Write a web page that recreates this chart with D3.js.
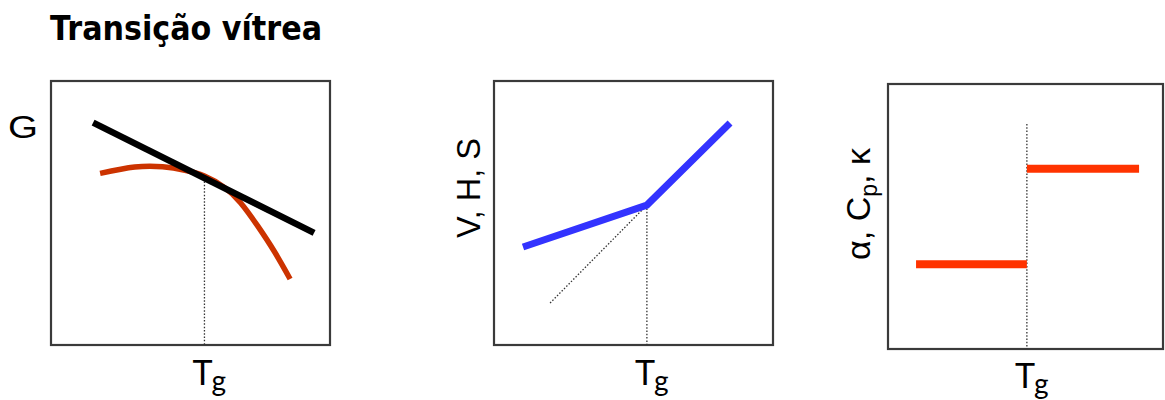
<!DOCTYPE html>
<html>
<head>
<meta charset="utf-8">
<script src="https://cdn.jsdelivr.net/npm/d3@7"></script>
<style>
  html, body { margin: 0; padding: 0; background: #ffffff; }
  svg { display: block; }
</style>
</head>
<body>
<svg id="chart" width="1165" height="400"></svg>
<script>
// ---------- DATA (abstract units: temperature 0..100, property 0..100) ----------
const title = "Transição vítrea";
const tgLabel = "T";
const tgSub = "g";

// Panel 1 : Gibbs energy G
const gLabel = "G";
const gTg = 55;
const gLiquid = [ {x: 15.1, y: 84.2}, {x: 94.3, y: 42.5} ];            // black straight line
const gGlass  = [                                                       // red curve
  {x: 17.6, y: 65.0}, {x: 30, y: 67.4}, {x: 40, y: 67.5}, {x: 48, y: 66.2},
  {x: 55, y: 64.0}, {x: 62, y: 59.8}, {x: 68, y: 53.8}, {x: 74, y: 45.2},
  {x: 80, y: 35.5}, {x: 85.7, y: 25.0}
];

// Panel 2 : V, H, S
const vLabel = "V, H, S";
const vTg = 54.8;
const vLine = [ {x: 10.4, y: 37.1}, {x: 54.8, y: 53.0}, {x: 84.6, y: 84.1} ];
const vExtrap = [ {x: 20.1, y: 15.9}, {x: 54.8, y: 53.0} ];

// Panel 3 : alpha, Cp, kappa
const aLabelParts = ["α, C", "p", ", κ"];
const aTg = 50.5;
const aLow  = [ {x: 10.2, y: 32.0}, {x: 50.5, y: 32.0} ];
const aHigh = [ {x: 50.5, y: 68.0}, {x: 91.3, y: 68.0} ];
const aGuideTop = 84.9;

// ---------- LAYOUT ----------
const svg = d3.select("#chart");
const frames = [
  {x0: 51,  x1: 330,  y0: 81, y1: 345},
  {x0: 494, x1: 773,  y0: 81, y1: 345},
  {x0: 888, x1: 1163, y0: 84, y1: 349}
];
const scales = frames.map(f => ({
  x: d3.scaleLinear().domain([0, 100]).range([f.x0, f.x1]),
  y: d3.scaleLinear().domain([0, 100]).range([f.y1, f.y0])
}));

// title
svg.append("text")
  .attr("x", 50).attr("y", 40)
  .attr("font-family", "'DejaVu Sans', Verdana, sans-serif")
  .attr("font-weight", "bold")
  .attr("font-size", 33)
  .attr("textLength", 272)
  .attr("lengthAdjust", "spacingAndGlyphs")
  .attr("fill", "#000")
  .text(title);

// frames
frames.forEach(f => {
  svg.append("rect")
    .attr("x", f.x0).attr("y", f.y0)
    .attr("width", f.x1 - f.x0).attr("height", f.y1 - f.y0)
    .attr("fill", "none").attr("stroke", "#3a3a3a").attr("stroke-width", 2.2);
});

const dotted = (g, pts, s) => g.append("path")
  .attr("d", d3.line().x(d => s.x(d.x)).y(d => s.y(d.y))(pts))
  .attr("fill", "none").attr("stroke", "#333").attr("stroke-width", 1.3)
  .attr("stroke-dasharray", "1.5,1.8");

const tgText = (s, tg, yBase) => {
  const t = svg.append("text")
    .attr("x", s.x(tg) - 12).attr("y", yBase)
    .attr("font-family", "Lato, 'Open Sans', sans-serif")
    .attr("font-size", 34).attr("fill", "#000");
  t.append("tspan").text(tgLabel);
  t.append("tspan").attr("font-size", 28).attr("dy", 6).attr("dx", -1).text(tgSub);
};

// ---- Panel 1 ----
{
  const s = scales[0];
  const line = d3.line().x(d => s.x(d.x)).y(d => s.y(d.y));
  // Tg guide: from the tangent point down to the axis
  const tgY = gLiquid[0].y + (gTg - gLiquid[0].x) / (gLiquid[1].x - gLiquid[0].x) * (gLiquid[1].y - gLiquid[0].y);
  dotted(svg, [{x: gTg, y: tgY}, {x: gTg, y: 0}], s);
  svg.append("path")
    .attr("d", d3.line().x(d => s.x(d.x)).y(d => s.y(d.y)).curve(d3.curveNatural)(gGlass))
    .attr("fill", "none").attr("stroke", "#cc3300").attr("stroke-width", 5.5)
    .attr("stroke-linecap", "butt");
  svg.append("path")
    .attr("d", line(gLiquid))
    .attr("fill", "none").attr("stroke", "#000").attr("stroke-width", 6.5);
  svg.append("text")
    .attr("x", 8).attr("y", 138)
    .attr("font-family", "'Liberation Sans', Arial, sans-serif")
    .attr("font-size", 32).attr("fill", "#000")
    .attr("textLength", 30).attr("lengthAdjust", "spacingAndGlyphs")
    .text(gLabel);
  tgText(s, gTg, 385);
}

// ---- Panel 2 ----
{
  const s = scales[1];
  const line = d3.line().x(d => s.x(d.x)).y(d => s.y(d.y));
  dotted(svg, vExtrap, s);
  dotted(svg, [{x: vTg, y: vLine[1].y}, {x: vTg, y: 0}], s);
  svg.append("path")
    .attr("d", line(vLine))
    .attr("fill", "none").attr("stroke", "#3333ff").attr("stroke-width", 7)
    .attr("stroke-linejoin", "miter");
  svg.append("text")
    .attr("transform", "translate(480,188) rotate(-90)")
    .attr("text-anchor", "middle")
    .attr("font-family", "'Liberation Sans', Arial, sans-serif")
    .attr("font-size", 33).attr("fill", "#000")
    .attr("textLength", 100).attr("lengthAdjust", "spacingAndGlyphs")
    .text(vLabel);
  tgText(s, vTg, 385);
}

// ---- Panel 3 ----
{
  const s = scales[2];
  const line = d3.line().x(d => s.x(d.x)).y(d => s.y(d.y));
  dotted(svg, [{x: aTg, y: aGuideTop}, {x: aTg, y: 0}], s);
  [aLow, aHigh].forEach(seg => {
    svg.append("path")
      .attr("d", line(seg))
      .attr("fill", "none").attr("stroke", "#ff3300").attr("stroke-width", 8);
  });
  const t = svg.append("text")
    .attr("transform", "translate(870,204) rotate(-90)")
    .attr("text-anchor", "middle")
    .attr("font-family", "'Liberation Sans', Arial, sans-serif")
    .attr("font-size", 34).attr("fill", "#000");
  t.append("tspan").text(aLabelParts[0]);
  t.append("tspan").attr("font-size", 23).attr("dy", 7).text(aLabelParts[1]);
  t.append("tspan").attr("dy", -7).text(aLabelParts[2]);
  tgText(s, aTg, 388);
}
</script>
</body>
</html>
